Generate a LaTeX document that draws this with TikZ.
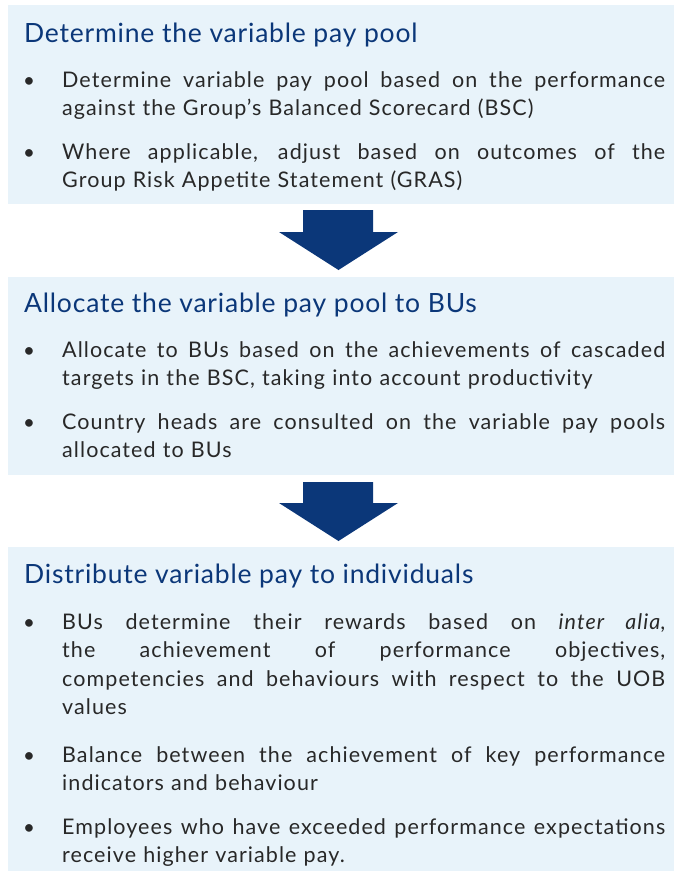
\documentclass[tikz,border=0pt]{standalone}
\usepackage{fontspec}
\setmainfont{Lato}[LetterSpace=5]
\newfontfamily\headfont{Lato}[LetterSpace=3]
\definecolor{panelfill}{RGB}{232,243,250}
\definecolor{navy}{RGB}{11,55,121}
\definecolor{bodyink}{RGB}{40,40,40}
% one fully justified line of a bullet paragraph (stretchable spaces)
\newcommand{\fullline}[1]{\makebox[603pt][s]{\spaceskip=0pt\xspaceskip=0pt #1}\\}
\begin{document}
\begin{tikzpicture}[x=1pt,y=-1pt,
  panel/.style={fill=panelfill,draw=none},
  flowarrow/.style={fill=navy,draw=none},
  heading/.style={anchor=base west,inner sep=0pt,text=navy,
    font=\headfont\fontsize{26.5}{30}\selectfont},
  para/.style={anchor=base west,inner sep=0pt,text=bodyink,align=left,
    text width=603pt,font=\fontsize{21.5}{28.5}\selectfont},
  dot/.style={anchor=base,inner sep=0pt,text=bodyink,
    font=\fontsize{20.5}{28.5}\selectfont}]
\useasboundingbox (0,0) rectangle (674,871);

% panels
\path[panel] (8,5) rectangle (674,204);
\path[panel] (8,277) rectangle (674,475);
\path[panel] (8,547) rectangle (674,871);

% block arrows between the panels
\path[flowarrow] (303,210) -- (373,210) -- (373,232) -- (398,232)
  -- (338.5,270) -- (279,232) -- (303,232) -- cycle;
\path[flowarrow] (303,482) -- (373,482) -- (373,503) -- (398,503)
  -- (338.5,541) -- (279,503) -- (303,503) -- cycle;

% step 1
\node[heading] (t1) at (24,42) {Determine the variable pay pool};
\node[dot] (d11) at (29,87) {\textbullet};
\node[para] (p11) at (62,87) {\fullline{Determine variable pay pool based on the performance}
  against the Group’s Balanced Scorecard (BSC)};
\node[dot] (d12) at (29,159) {\textbullet};
\node[para] (p12) at (62,159) {\fullline{Where applicable, adjust based on outcomes of the}
  Group Risk Appetite Statement (GRAS)};

% step 2
\node[heading] (t2) at (24,312) {Allocate the variable pay pool to BUs};
\node[dot] (d21) at (29,357) {\textbullet};
\node[para] (p21) at (62,357) {\fullline{Allocate to BUs based on the achievements of cascaded}
  targets in the BSC, taking into account productivity};
\node[dot] (d22) at (29,429) {\textbullet};
\node[para] (p22) at (62,429) {\fullline{Country heads are consulted on the variable pay pools}
  allocated to BUs};

% step 3
\node[heading] (t3) at (24,583) {Distribute variable pay to individuals};
\node[dot] (d31) at (29,629) {\textbullet};
\node[para] (p31) at (62,629) {\fullline{BUs determine their rewards based on \textit{inter alia},}
  \fullline{the achievement of performance objectives,}
  \fullline{competencies and behaviours with respect to the UOB}
  values};
\node[dot] (d32) at (29,762) {\textbullet};
\node[para] (p32) at (62,762) {\fullline{Balance between the achievement of key performance}
  indicators and behaviour};
\node[dot] (d33) at (29,834) {\textbullet};
\node[para] (p33) at (62,834) {\fullline{Employees who have exceeded performance expectations}
  receive higher variable pay.};
\end{tikzpicture}
\end{document}
